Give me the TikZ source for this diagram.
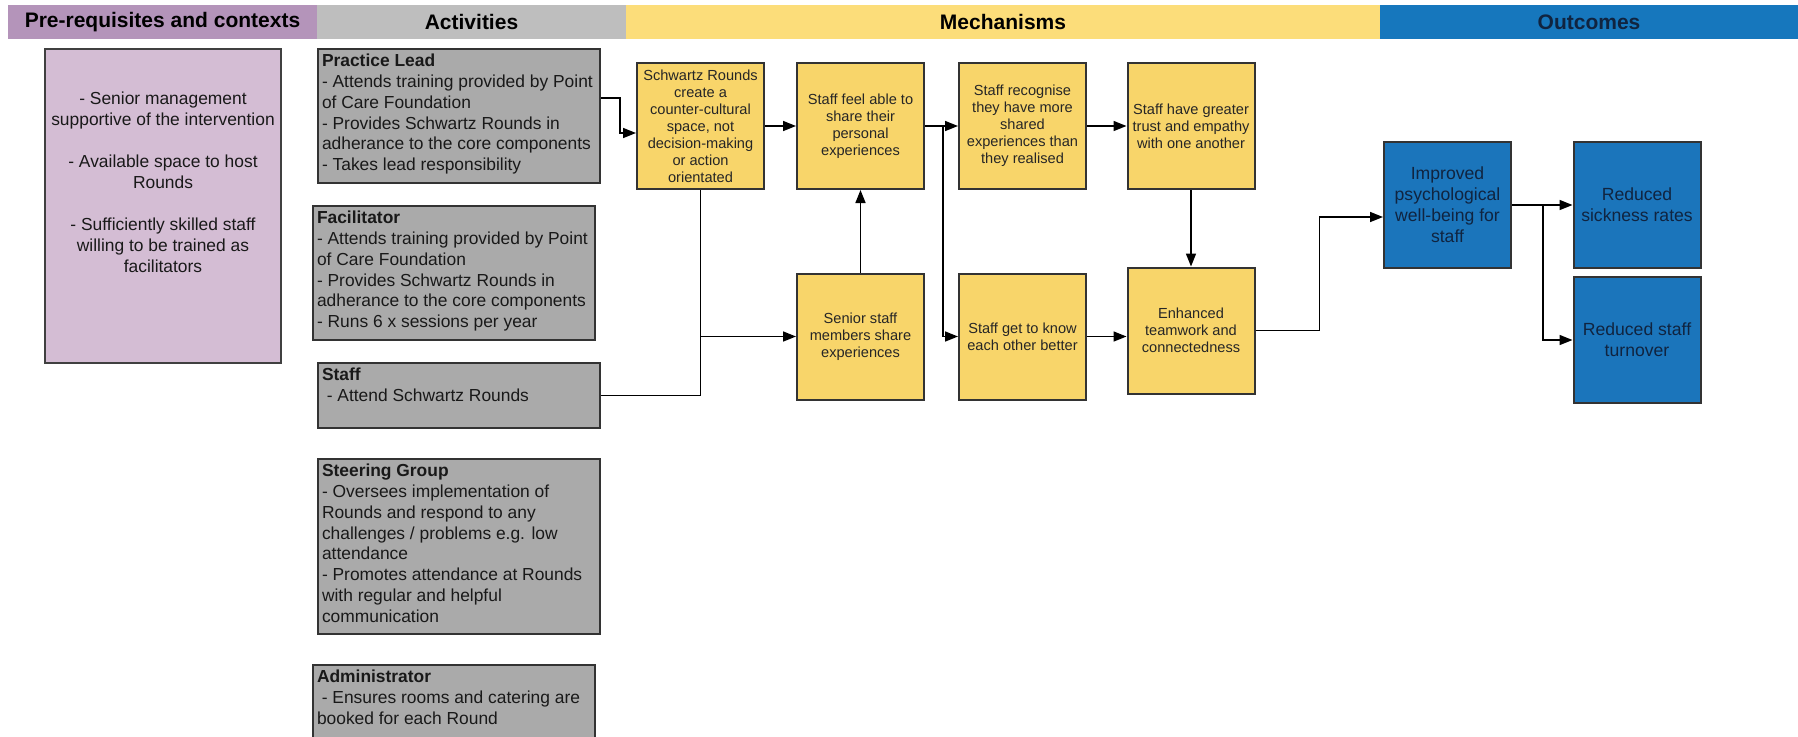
\documentclass[tikz,border=0pt]{standalone}
\usepackage{fontspec}
\setmainfont{Liberation Sans}
\usetikzlibrary{arrows.meta}
\definecolor{prehead}{RGB}{180,148,186}
\definecolor{prefill}{RGB}{212,189,212}
\definecolor{acthead}{RGB}{190,190,190}
\definecolor{actfill}{RGB}{170,170,170}
\definecolor{mechhead}{RGB}{252,221,122}
\definecolor{mechfill}{RGB}{248,213,106}
\definecolor{outhead}{RGB}{22,119,189}
\definecolor{outfill}{RGB}{27,117,187}
\definecolor{navy}{RGB}{16,36,64}
\newcommand{\actbody}[2]{\parbox[t][#1][t]{137pt}{\raggedright #2}}
\begin{document}
\begin{tikzpicture}[x=0.5pt,y=-0.5pt,
  head/.style={rectangle,inner sep=0pt,minimum height=17pt,font=\fontsize{10.5pt}{12pt}\selectfont\bfseries},
  act/.style={rectangle,draw=black!80,line width=1pt,fill=actfill,anchor=north west,inner xsep=2pt,inner ysep=2.5pt,text=black!90,font=\fontsize{8.7pt}{10.4pt}\selectfont},
  mech/.style={rectangle,draw=black!80,line width=1pt,fill=mechfill,minimum width=63.5pt,minimum height=63pt,inner sep=0pt,align=center,text=black!85,font=\fontsize{7.3pt}{8.5pt}\selectfont},
  outc/.style={mech,fill=outfill,text=navy,font=\fontsize{8.8pt}{10.5pt}\selectfont},
  arr/.style={line width=0.8pt,-{Triangle[length=6.5pt,width=5pt]}},
  link/.style={line width=0.8pt}]
\useasboundingbox (0,0) rectangle (1798,736);
\clip (0,0) rectangle (1798,736);

% column headers
\foreach \n/\cx/\w/\c/\tc/\t in {pre/162.5/154.5/prehead/black/Pre-requisites and contexts,
    act/471.5/154.5/acthead/black/Activities,
    mech/1003/377/mechhead/black/Mechanisms,
    out/1589/209/outhead/navy/Outcomes}{
  \node[head,fill=\c,text=\tc,minimum width=\w pt] (h\n) at (\cx,22) {\t};
}

% pre-requisites
\node[rectangle,draw=black!75,line width=1pt,fill=prefill,anchor=north west,inner sep=0pt,text=black!90,
  font=\fontsize{8.7pt}{10.5pt}\selectfont] (pre) at (44,48)
  {\parbox[t][157pt][t]{118pt}{\centering\vspace*{21.5pt}%
  - Senior management\\supportive of the intervention\\[10.5pt]
  - Available space to host\\Rounds\\[10.5pt]
  - Sufficiently skilled staff\\willing to be trained as\\facilitators}};

% activities
\node[act] (lead) at (317,48) {\actbody{62pt}{\textbf{Practice Lead}\\- Attends training provided by Point\\of Care Foundation\\- Provides Schwartz Rounds in\\adherance to the core components\\- Takes lead responsibility}};
\node[act] (facil) at (312,205) {\actbody{62pt}{\textbf{Facilitator}\\- Attends training provided by Point\\of Care Foundation\\- Provides Schwartz Rounds in\\adherance to the core components\\- Runs 6 x sessions per year}};
\node[act] (staff) at (317,362) {\actbody{27.5pt}{\textbf{Staff}\\\ - Attend Schwartz Rounds}};
\node[act] (steer) at (317,458) {\actbody{82.5pt}{\textbf{Steering Group}\\- Oversees implementation of\\Rounds and respond to any\\challenges / problems e.g. low\\attendance\\- Promotes attendance at Rounds\\with regular and helpful\\communication}};
\node[act] (admin) at (312,664) {\actbody{40pt}{\textbf{Administrator}\\\ - Ensures rooms and catering are\\booked for each Round}};

% mechanisms
\node[mech] (sr) at (700.5,126) {Schwartz Rounds\\create a\\counter-cultural\\space, not\\decision-making\\or action\\orientated};
\node[mech] (feel) at (860.5,126) {Staff feel able to\\share their\\personal\\experiences};
\node[mech] (recog) at (1022.5,126) {Staff recognise\\they have more\\shared\\experiences than\\they realised};
\node[mech] (trust) at (1191,126) {Staff have greater\\trust and empathy\\with one another};
\node[mech] (senior) at (860.5,336.5) {Senior staff\\members share\\experiences};
\node[mech] (know) at (1022.5,336.5) {Staff get to know\\each other better};
\node[mech] (enh) at (1191,330.5) {Enhanced\\teamwork and\\connectedness};

% outcomes
\node[outc] (wellb) at (1447.5,205) {Improved\\psychological\\well-being for\\staff};
\node[outc] (sick) at (1637,205) {Reduced\\sickness rates};
\node[outc] (turn) at (1637,340) {Reduced staff\\turnover};

% connectors
\draw[arr] ([yshift=9pt]lead.east) -- ++(19,0) |- ([yshift=-3.5pt]sr.west);
\draw[arr] (sr.east) -- (feel.west);
\draw[arr] (feel.east) -- (recog.west);
\draw[arr] (feel.east) -- ++(18,0) |- (know.west);
\draw[arr] (recog.east) -- (trust.west);
\draw[arr] (trust.south) -- (enh.north);
\draw[arr] (senior.north) -- (feel.south);
\draw[arr] (sr.south) |- (senior.west);
\draw[link] (staff.east) -| (sr.south |- senior.west);
\draw[arr] (know.east) -- (know.east -| enh.west);
\draw[arr] (enh.east) -- ++(64,0) |- ([yshift=-6pt]wellb.west);
\draw[arr] (wellb.east) -- (sick.west);
\draw[arr] (wellb.east) -- ++(31,0) |- (turn.west);
\end{tikzpicture}
\end{document}
